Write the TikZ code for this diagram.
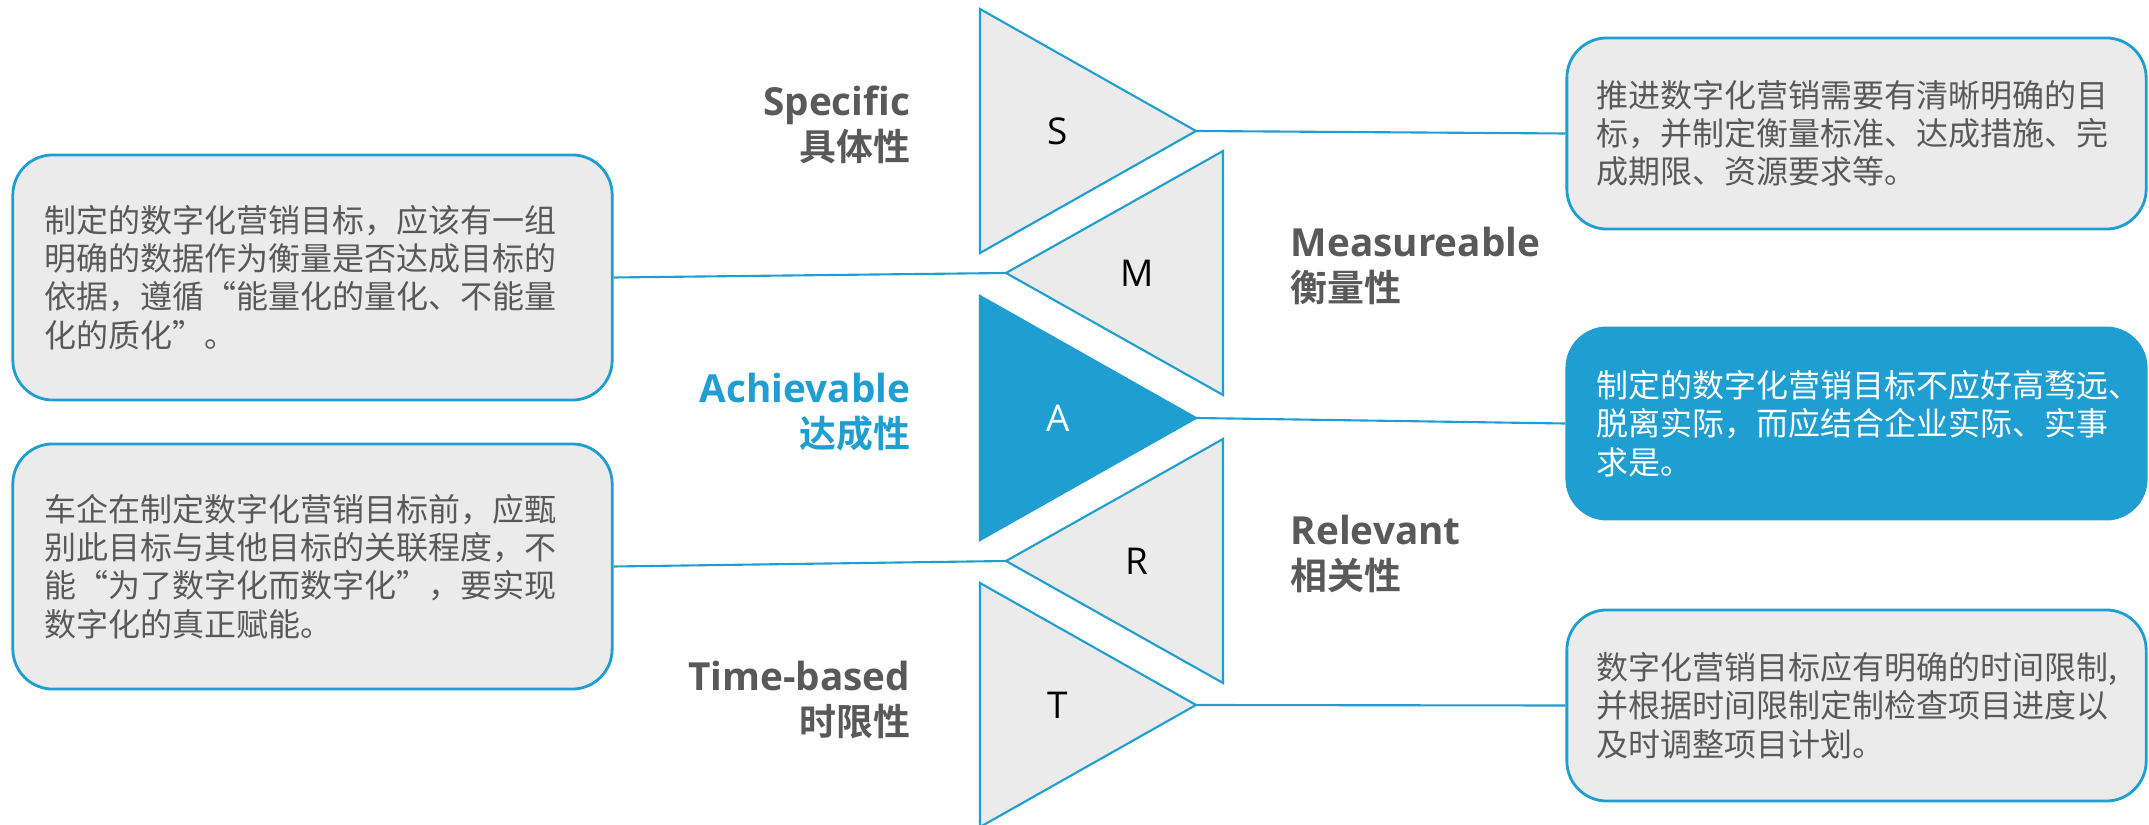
\documentclass[tikz,border=0pt]{standalone}
\usepackage{fontspec}
\setmainfont{Open Sans}
\newfontfamily\cjk{Noto Sans CJK SC}[BoldFont={Noto Sans CJK SC Bold}]
\definecolor{smartblue}{HTML}{1F9ED1}
\definecolor{smartgrey}{HTML}{EBEBEB}
\definecolor{inkgrey}{HTML}{595959}
\newcommand{\cjklabel}[1]{{\cjk\fontsize{10.5}{12.8}\selectfont #1}}

\begin{document}
\begin{tikzpicture}[x=0.01cm, y=-0.01cm,
            tri/.style={draw=smartblue, line width=0.6pt, fill=smartgrey},
            box/.style={draw=smartblue, line width=0.8pt, fill=smartgrey, rounded corners=0.4cm,
                text=inkgrey, align=left, font=\cjk\fontsize{9.1}{10.9}\selectfont},
            lbox/.style={box, minimum width=5.99cm, minimum height=2.45cm, text width=5.35cm},
            rbox/.style={box, minimum width=5.79cm, minimum height=1.91cm, text width=5.19cm},
            conn/.style={draw=smartblue, line width=0.6pt},
            tag/.style={text=inkgrey, inner sep=0pt, font=\bfseries\fontsize{11}{12.8}\selectfont},
            letter/.style={font=\fontsize{10.5}{12}\selectfont}]
            \useasboundingbox (0,0) rectangle (2149,825);

            \draw[tri] (980,9) -- (1196,131) coordinate (Stip) -- (980,253) -- cycle;
            \draw[tri] (1223,151) -- (1006,273) coordinate (Mtip) -- (1223,395) -- cycle;
            \draw[tri, fill=smartblue] (980,296) -- (1196,418) coordinate (Atip) -- (980,540) -- cycle;
            \draw[tri] (1223,439) -- (1006,561) coordinate (Rtip) -- (1223,683) -- cycle;
            \draw[tri] (980,583) -- (1196,705) coordinate (Ttip) -- (980,827) -- cycle;

            \node[letter] (sletter) at (1058,131) {S};
            \node[letter] (mletter) at (1137,273) {M};
            \node[letter, text=white] (aletter) at (1058,418) {A};
            \node[letter] (rletter) at (1137,561) {R};
            \node[letter] (tletter) at (1058,705) {T};

            \node[tag, anchor=east, align=right] (spec) at (911,125) {Specific\\\cjklabel{具体性}};
            \node[tag, anchor=west, align=left] (meas) at (1290,266) {Measureable\\\cjklabel{衡量性}};
            \node[tag, anchor=east, align=right, text=smartblue] (achv) at (911,412) {Achievable\\\cjklabel{达成性}};
            \node[tag, anchor=west, align=left] (relv) at (1290,554) {Relevant\\\cjklabel{相关性}};
            \node[tag, anchor=east, align=right] (time) at (911,700) {Time-based\\\cjklabel{时限性}};

            \node[rbox] (specbox) at (1856.5,133.5) {推进数字化营销需要有清晰明确的目\\标，并制定衡量标准、达成措施、完\\成期限、资源要求等。};
            \node[lbox] (measbox) at (312.5,277.5) {制定的数字化营销目标，应该有一组\\明确的数据作为衡量是否达成目标的\\依据，遵循“能量化的量化、不能量\\化的质化”。};
            \node[rbox, fill=smartblue, text=white] (achvbox) at (1856.5,423.5) {制定的数字化营销目标不应好高骛远、\\脱离实际，而应结合企业实际、实事\\求是。};
            \node[lbox] (relvbox) at (312.5,566.5) {车企在制定数字化营销目标前，应甄\\别此目标与其他目标的关联程度，不\\能“为了数字化而数字化”，要实现\\数字化的真正赋能。};
            \node[rbox] (timebox) at (1856.5,705.5) {数字化营销目标应有明确的时间限制,\\并根据时间限制定制检查项目进度以\\及时调整项目计划。};

            \draw[conn] (Stip) -- (specbox.west);
            \draw[conn] (Mtip) -- (measbox.east);
            \draw[conn] (Atip) -- (achvbox.west);
            \draw[conn] (Rtip) -- (relvbox.east);
            \draw[conn] (Ttip) -- (timebox.west);
        \end{tikzpicture}
\end{document}
